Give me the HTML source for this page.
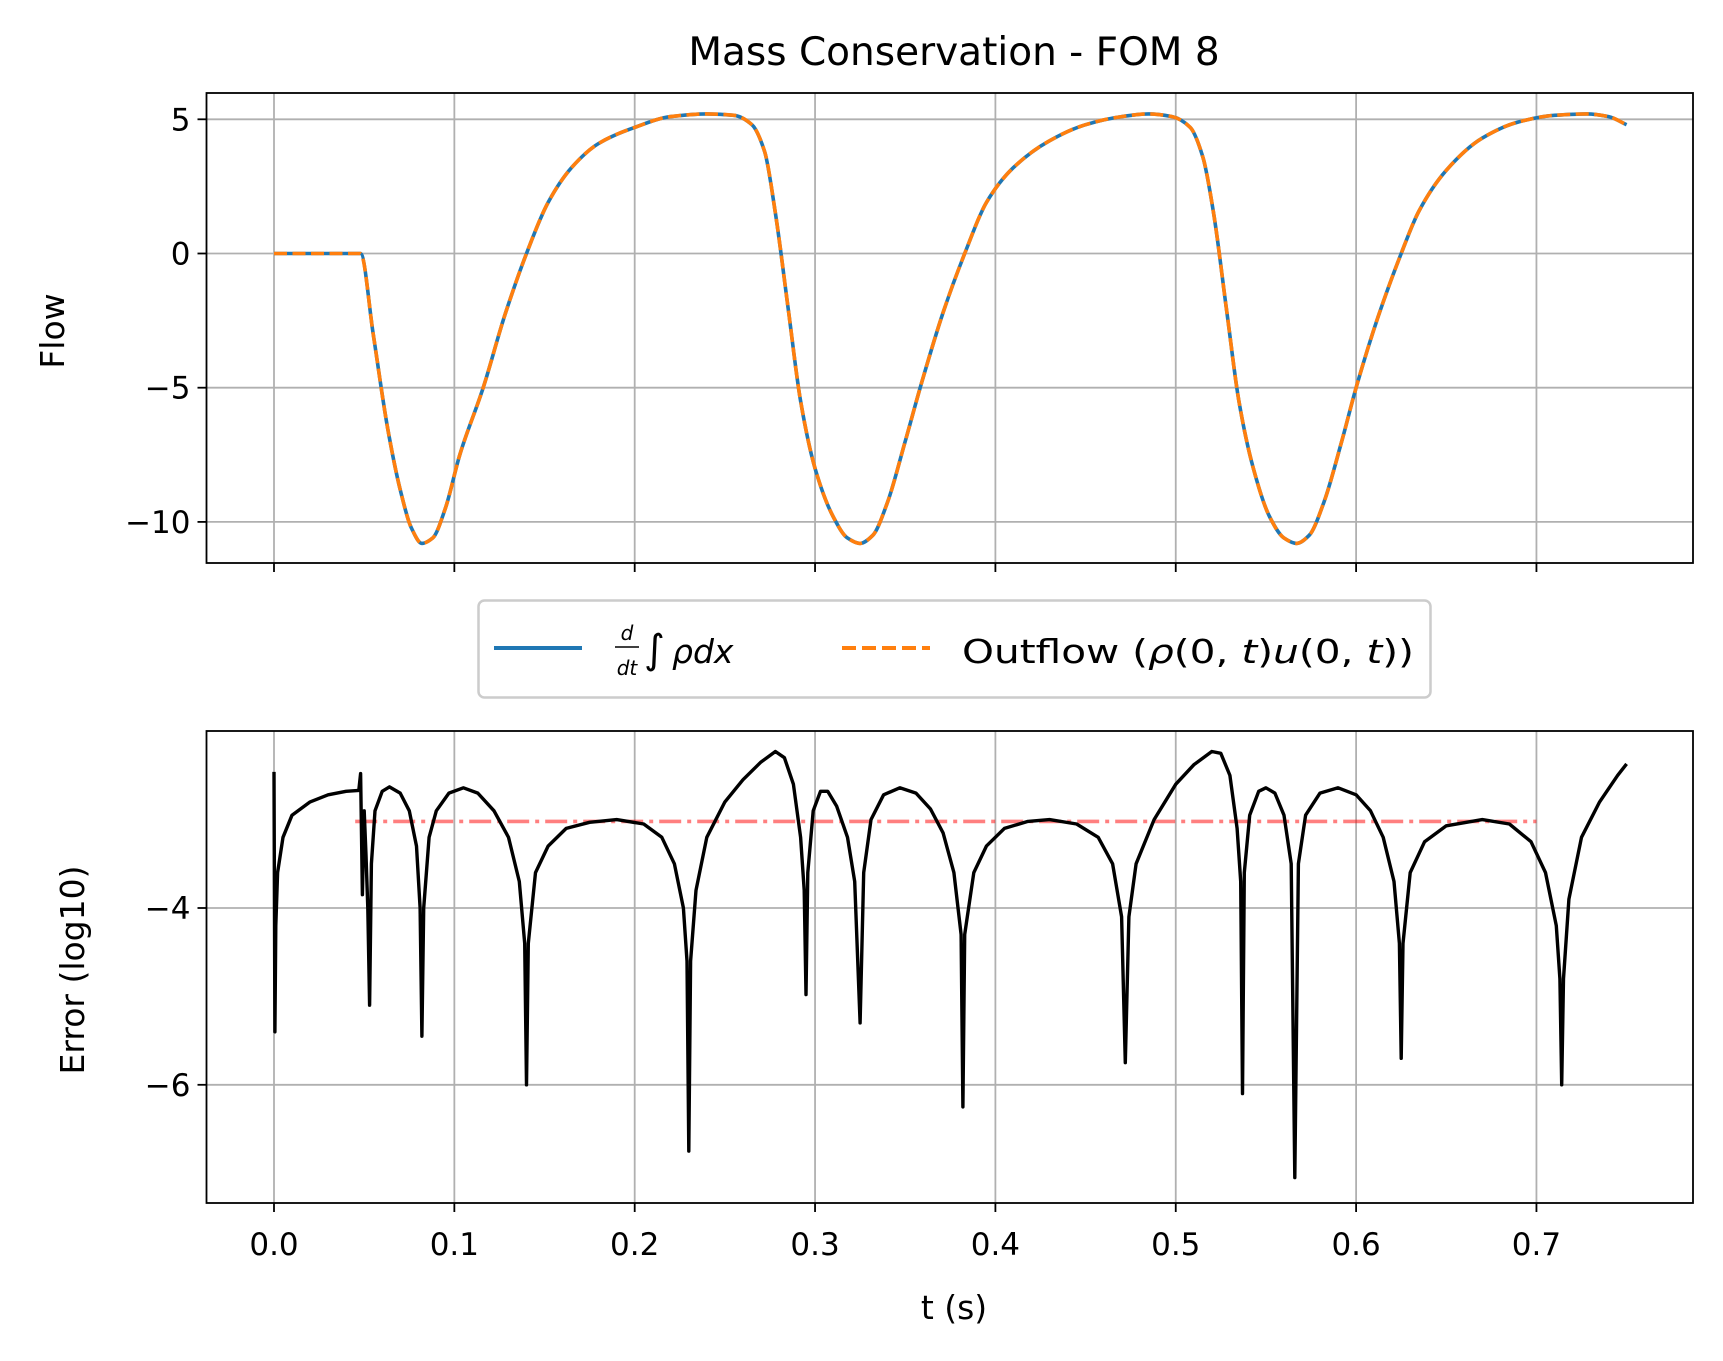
<!DOCTYPE html>
<html><head><meta charset="utf-8"><style>
body{margin:0;background:#fff;}
svg{display:block;font-family:"DejaVu Sans","Liberation Sans",sans-serif;}
</style></head><body>
<svg id="chart" width="1723" height="1361" viewBox="0 0 1723 1361">
<g id="gtop"></g>
<g id="gbot"></g>
<text x="954" y="65" font-size="39" text-anchor="middle">Mass Conservation - FOM 8</text>
<text transform="translate(64,331) rotate(-90)" font-size="33" text-anchor="middle">Flow</text>
<text transform="translate(84,970) rotate(-90)" font-size="33" text-anchor="middle">Error (log10)</text>
<text x="954" y="1319" font-size="33" text-anchor="middle">t (s)</text>
<g>
<rect x="478.5" y="600.5" width="952" height="97" rx="6" fill="#fff" stroke="#ccc" stroke-width="2.5"/>
<line x1="494" y1="648" x2="582" y2="648" stroke="#1f77b4" stroke-width="4"/>
<g font-style="italic">
<text x="627" y="640" font-size="20" text-anchor="middle">d</text>
<line x1="615" y1="647" x2="639" y2="647" stroke="#000" stroke-width="1.5"/>
<text x="627" y="675" font-size="20" text-anchor="middle">dt</text>
<text x="644" y="663" font-size="40" font-style="normal">∫</text>
<text x="672" y="663" font-size="33">ρdx</text>
</g>
<line x1="842" y1="648" x2="930" y2="648" stroke="#ff7f0e" stroke-width="4" stroke-dasharray="14,6"/>
<text x="962" y="663" font-size="33" textLength="452" lengthAdjust="spacingAndGlyphs">Outflow (<tspan font-style="italic">ρ</tspan>(0, <tspan font-style="italic">t</tspan>)<tspan font-style="italic">u</tspan>(0, <tspan font-style="italic">t</tspan>))</text>
</g>
</svg>
<script>
const xTicks=[0,0.1,0.2,0.3,0.4,0.5,0.6,0.7];
const xTickLabels=["0.0","0.1","0.2","0.3","0.4","0.5","0.6","0.7"];
const flowTicks=[5,0,-5,-10];
const flowTickLabels=["5","0","\u22125","\u221210"];
const errTicks=[-4,-6];
const errTickLabels=["\u22124","\u22126"];
const flowT=[0,0.048,0.055,0.063,0.07,0.076,0.082,0.088,0.095,0.103,0.116,0.128,0.14,0.152,0.165,0.18,0.2,0.22,0.24,0.255,0.265,0.272,0.278,0.285,0.292,0.3,0.31,0.318,0.325,0.332,0.34,0.35,0.36,0.371,0.383,0.395,0.41,0.43,0.45,0.47,0.485,0.498,0.508,0.515,0.521,0.528,0.535,0.543,0.552,0.56,0.567,0.574,0.582,0.592,0.6,0.612,0.625,0.635,0.65,0.67,0.69,0.71,0.728,0.74,0.75];
const flowV=[0,0,-3,-6.5,-8.8,-10.2,-10.8,-10.6,-9.5,-7.5,-5,-2.3,0,1.9,3.2,4.1,4.7,5.1,5.2,5.15,4.8,3.8,1.5,-2,-5.5,-8,-9.8,-10.6,-10.8,-10.5,-9.3,-7,-4.6,-2.2,0,1.9,3.2,4.2,4.8,5.1,5.2,5.1,4.7,3.6,1.5,-2,-5.5,-8,-9.8,-10.6,-10.8,-10.5,-9.3,-7,-5,-2.4,0,1.6,3.1,4.3,4.9,5.15,5.2,5.1,4.8];
const errT=[0,0.0005,0.001,0.002,0.005,0.01,0.02,0.03,0.04,0.047,0.048,0.049,0.05,0.051,0.052,0.053,0.054,0.056,0.06,0.064,0.07,0.075,0.079,0.081,0.082,0.083,0.086,0.09,0.097,0.105,0.113,0.122,0.13,0.136,0.139,0.14,0.141,0.145,0.152,0.162,0.175,0.19,0.205,0.215,0.222,0.227,0.229,0.23,0.231,0.234,0.24,0.25,0.26,0.27,0.278,0.283,0.288,0.292,0.294,0.295,0.296,0.299,0.303,0.307,0.312,0.318,0.322,0.325,0.327,0.331,0.338,0.347,0.356,0.364,0.371,0.377,0.381,0.382,0.383,0.388,0.395,0.405,0.418,0.43,0.445,0.457,0.465,0.47,0.472,0.474,0.478,0.488,0.5,0.51,0.52,0.525,0.53,0.534,0.536,0.537,0.538,0.541,0.546,0.55,0.555,0.56,0.564,0.566,0.568,0.572,0.58,0.59,0.6,0.608,0.615,0.621,0.624,0.625,0.626,0.63,0.638,0.65,0.67,0.685,0.697,0.705,0.711,0.713,0.714,0.715,0.718,0.725,0.735,0.745,0.75];
const errV=[-2.46,-5.4,-4.2,-3.6,-3.2,-2.95,-2.8,-2.72,-2.68,-2.67,-2.48,-3.85,-2.9,-3.4,-4.0,-5.1,-3.5,-2.9,-2.68,-2.63,-2.7,-2.9,-3.3,-4.0,-5.45,-4.0,-3.2,-2.9,-2.7,-2.64,-2.7,-2.9,-3.2,-3.7,-4.4,-6.0,-4.4,-3.6,-3.3,-3.1,-3.03,-3.0,-3.05,-3.2,-3.5,-4.0,-4.6,-6.75,-4.6,-3.8,-3.2,-2.8,-2.55,-2.35,-2.23,-2.3,-2.6,-3.2,-3.8,-4.98,-3.6,-2.9,-2.68,-2.68,-2.85,-3.2,-3.7,-5.3,-3.6,-3.0,-2.72,-2.64,-2.7,-2.88,-3.15,-3.6,-4.3,-6.25,-4.3,-3.6,-3.3,-3.1,-3.02,-3.0,-3.05,-3.2,-3.5,-4.1,-5.75,-4.1,-3.5,-3.0,-2.6,-2.38,-2.23,-2.25,-2.5,-3.1,-3.7,-6.1,-3.6,-2.95,-2.68,-2.64,-2.7,-2.95,-3.5,-7.05,-3.5,-2.95,-2.7,-2.64,-2.72,-2.9,-3.2,-3.7,-4.4,-5.7,-4.4,-3.6,-3.25,-3.07,-3.0,-3.05,-3.25,-3.6,-4.2,-4.8,-6.0,-4.8,-3.9,-3.2,-2.8,-2.5,-2.37];
const refT=[0.045,0.7];
const refV=[-3.02,-3.02];

const NS="http://www.w3.org/2000/svg";
const L=206.5,R=1693;
const TOP1=93,BOT1=563,TOP2=731,BOT2=1203;
const X=t=>274+t*1803.5;
const Yf=v=>253.5-v*26.84;
const Ye=v=>908-(v+4)*88.4;
function mk(tag,attrs,parent){const e=document.createElementNS(NS,tag);for(const k in attrs)e.setAttribute(k,attrs[k]);parent.appendChild(e);return e;}
function axes(g,yT,yB,yTicks,yLabels,Y,showX,nm){
  const grid=mk('g',{},g);
  
  
  xTicks.forEach((t,i)=>{
    mk('line',{x1:X(t),x2:X(t),y1:yT,y2:yB,stroke:'#b0b0b0','stroke-width':1.8},grid);
    mk('line',{x1:X(t),x2:X(t),y1:yB,y2:yB+9,stroke:'#000','stroke-width':1.8},g);
    if(showX){const tx=mk('text',{x:X(t),y:yB+52,'font-size':31,'text-anchor':'middle'},g);tx.textContent=xTickLabels[i];
      
      }
  });
  yTicks.forEach((v,i)=>{
    mk('line',{x1:L,x2:R,y1:Y(v),y2:Y(v),stroke:'#b0b0b0','stroke-width':1.8},grid);
    mk('line',{x1:L-9,x2:L,y1:Y(v),y2:Y(v),stroke:'#000','stroke-width':1.8},g);
    const tx=mk('text',{x:L-16,y:Y(v)+11,'font-size':31,'text-anchor':'end'},g);tx.textContent=yLabels[i];
    
    
  });
}
function path(T,V,Y){return T.map((t,i)=>(i?'L':'M')+X(t).toFixed(1)+','+Y(V[i]).toFixed(1)).join('');}
function smooth(T,V,Y){
  const xs=T.map(X),ys=V.map(Y),n=xs.length;
  const d=[],m=new Array(n);
  for(let i=0;i<n-1;i++)d.push((ys[i+1]-ys[i])/(xs[i+1]-xs[i]));
  m[0]=d[0];m[n-1]=d[n-2];
  for(let i=1;i<n-1;i++){
    if(d[i-1]*d[i]<=0)m[i]=0;
    else{const h0=xs[i]-xs[i-1],h1=xs[i+1]-xs[i];const w1=2*h1+h0,w2=h1+2*h0;m[i]=(w1+w2)/(w1/d[i-1]+w2/d[i]);}
  }
  let s='M'+xs[0].toFixed(1)+','+ys[0].toFixed(1);
  for(let i=0;i<n-1;i++){
    const h=(xs[i+1]-xs[i])/3;
    s+='C'+(xs[i]+h).toFixed(1)+','+(ys[i]+m[i]*h).toFixed(1)+' '+(xs[i+1]-h).toFixed(1)+','+(ys[i+1]-m[i+1]*h).toFixed(1)+' '+xs[i+1].toFixed(1)+','+ys[i+1].toFixed(1);
  }
  return s;
}
const gTop=document.getElementById('gtop'),gBot=document.getElementById('gbot');
axes(gTop,TOP1,BOT1,flowTicks,flowTickLabels,Yf,false,'flow');
let p=mk('path',{d:smooth(flowT,flowV,Yf),fill:'none',stroke:'#1f77b4','stroke-width':3.6,'stroke-linejoin':'round'},gTop);


p=mk('path',{d:smooth(flowT,flowV,Yf),fill:'none',stroke:'#ff7f0e','stroke-width':3.6,'stroke-dasharray':'13,5.5','stroke-linejoin':'round'},gTop);


mk('rect',{x:L,y:TOP1,width:R-L,height:BOT1-TOP1,fill:'none',stroke:'#000','stroke-width':1.8},gTop);
axes(gBot,TOP2,BOT2,errTicks,errTickLabels,Ye,true,'error');
p=mk('path',{d:path(refT,refV,Ye),fill:'none',stroke:'#ff0000','stroke-opacity':0.5,'stroke-width':3.6,'stroke-dasharray':'22,6,4,6'},gBot);


p=mk('path',{d:path(errT,errV,Ye),fill:'none',stroke:'#000','stroke-width':3.4,'stroke-linejoin':'round'},gBot);


mk('rect',{x:L,y:TOP2,width:R-L,height:BOT2-TOP2,fill:'none',stroke:'#000','stroke-width':1.8},gBot);
</script>
</body></html>
